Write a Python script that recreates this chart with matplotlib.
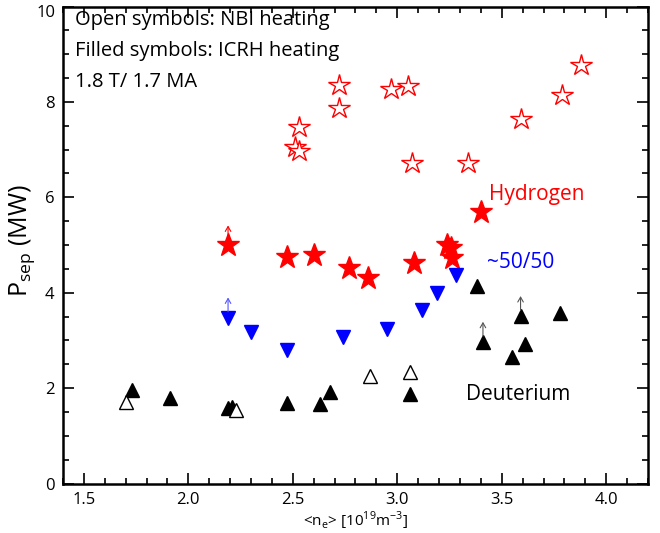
import numpy as np
import matplotlib.pyplot as plt
from matplotlib.ticker import MultipleLocator

plt.rcParams['font.family'] = ['Open Sans', 'DejaVu Sans']

# hydrogen, NBI (open stars)
h_nbi_ne = [2.72, 2.72, 2.97, 3.05, 3.88, 3.79, 3.59, 2.53, 2.51, 2.53, 3.07, 3.34]
h_nbi_p = [8.35, 7.87, 8.28, 8.34, 8.77, 8.14, 7.64, 7.47, 7.05, 6.97, 6.71, 6.71]

# hydrogen, ICRH (filled stars)
h_icrh_ne = [2.19, 2.47, 2.60, 2.77, 2.86, 3.08, 3.24, 3.255, 3.26, 3.40]
h_icrh_p = [4.99, 4.74, 4.79, 4.51, 4.30, 4.62, 4.99, 4.93, 4.72, 5.69]

# ~50/50 mix, ICRH (filled down triangles)
mix_ne = [2.19, 2.30, 2.47, 2.74, 2.95, 3.12, 3.19, 3.28]
mix_p = [3.48, 3.18, 2.80, 3.08, 3.23, 3.64, 3.99, 4.37]

# deuterium, ICRH (filled triangles)
d_icrh_ne = [3.38, 3.59, 3.78, 3.41, 3.61, 3.55, 3.06, 2.68, 2.63, 2.47,
             2.19, 2.21, 1.73, 1.91]
d_icrh_p = [4.15, 3.51, 3.58, 2.97, 2.92, 2.65, 1.87, 1.91, 1.66, 1.69,
            1.58, 1.60, 1.96, 1.79]

# deuterium, NBI (open triangles)
d_nbi_ne = [2.87, 3.06, 2.23, 1.70]
d_nbi_p = [2.26, 2.33, 1.55, 1.71]

# lower-limit points: (ne, P, colour)
arrows = [(2.19, 4.99, 'red'), (2.19, 3.48, '#5555ff'),
          (3.59, 3.51, '#555555'), (3.41, 2.97, '#555555')]

fig = plt.figure(figsize=(6.6, 5.33), dpi=100)
ax = fig.add_axes([63 / 660, 1 - 483.5 / 533, (648 - 63) / 660, (483.5 - 6.5) / 533])

ax.plot(h_nbi_ne, h_nbi_p, ls='none', marker='*', ms=16, mfc='white',
        mec='red', mew=1.0)
ax.plot(h_icrh_ne, h_icrh_p, ls='none', marker='*', ms=17, color='red')
ax.plot(mix_ne, mix_p, ls='none', marker='v', ms=10, color='blue')
ax.plot(d_icrh_ne, d_icrh_p, ls='none', marker='^', ms=10, color='black')
ax.plot(d_nbi_ne, d_nbi_p, ls='none', marker='^', ms=10, mfc='white',
        mec='black', mew=1.0)

for x, y, c in arrows:
    ax.annotate('', xy=(x, y + 0.42), xytext=(x, y + 0.12),
                arrowprops=dict(arrowstyle='->,head_length=0.35,head_width=0.2',
                                color=c, lw=0.8, shrinkA=0, shrinkB=0))

ax.text(3.44, 6.05, 'Hydrogen', color='red', fontsize=15, va='center')
ax.text(3.43, 4.64, '~50/50', color='blue', fontsize=15, va='center')
ax.text(3.33, 1.86, 'Deuterium', color='black', fontsize=15, va='center')

ax.text(0.02, 0.971, 'Open symbols: NBI heating', transform=ax.transAxes,
        fontsize=14.5, va='center')
ax.text(0.02, 0.906, 'Filled symbols: ICRH heating', transform=ax.transAxes,
        fontsize=14.5, va='center')
ax.text(0.02, 0.842, '1.8 T/ 1.7 MA', transform=ax.transAxes,
        fontsize=14.5, va='center')

ax.set_xlim(1.4, 4.2)
ax.set_ylim(0, 10)
ax.xaxis.set_minor_locator(MultipleLocator(0.1))
ax.yaxis.set_minor_locator(MultipleLocator(0.5))
ax.set_xticks([1.5, 2.0, 2.5, 3.0, 3.5, 4.0])
ax.set_xticklabels(['1.5', '2.0', '2.5', '3.0', '3.5', '4.0'])
ax.set_yticks([0, 2, 4, 6, 8, 10])
ax.set_yticklabels(['0', '2', '4', '6', '8', ''])
ax.text(-0.012, 0.986, '10', transform=ax.transAxes, ha='right', va='center',
        fontsize=12)

ax.tick_params(which='both', direction='in', top=True, right=True,
               labelsize=12, width=1.2)
ax.tick_params(which='major', length=8, pad=6)
ax.tick_params(which='minor', length=4)
for s in ax.spines.values():
    s.set_linewidth(1.8)

ax.set_xlabel(r'<n$_\mathregular{e}$> [10$^\mathregular{19}$m$^\mathregular{-3}$]',
              fontsize=11, labelpad=1)
ax.set_ylabel(r'P$_\mathregular{sep}$ (MW)', fontsize=18)
ax.yaxis.set_label_coords(-0.044, 0.51)

fig.savefig('out.png', dpi=100)
